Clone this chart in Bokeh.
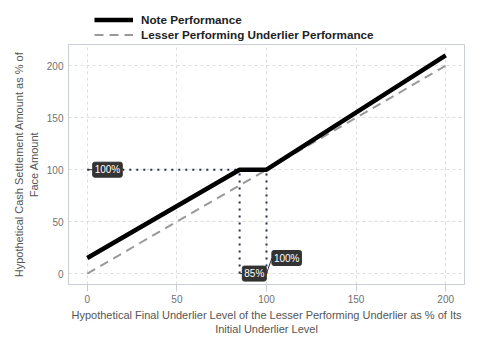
from bokeh.plotting import figure
from bokeh.layouts import column
from bokeh.models import Range1d, Legend, LegendItem, ColumnDataSource, FixedTicker
from bokeh.core.properties import value
from bokeh.embed import file_html
from bokeh.resources import INLINE

# Data
x_note = [0, 85, 100, 200]
y_note = [15, 100, 100, 210]
x_under = [0, 200]
y_under = [0, 200]
# reference (dotted) lines
ref_h_x = [0, 85]
ref_h_y = [100, 100]
ref_v1_x = [85, 85]
ref_v1_y = [0, 100]
ref_v2_x = [100, 100]
ref_v2_y = [0, 100]
# annotations
lab_text = ["100%", "85%", "100%"]
lab_pt_x = [0, 85, 100]
lab_pt_y = [100, 0, 0]
lab_x = [3, 86.5, 103]
lab_y = [100, 0, 15]
ticks = [0, 50, 100, 150, 200]
series_names = ["Note Performance", "Lesser Performing Underlier Performance"]

FONT = "Liberation Sans"
FRAME_COL = "#c9cdd6"
NOTE_STYLE = dict(line_color="black", line_width=4.5)
UNDER_STYLE = dict(line_color="#999999", line_width=2, line_dash="9 6")

p = figure(width=480, height=317, output_backend="svg", toolbar_location=None,
           x_range=Range1d(-10.5, 210.5), y_range=Range1d(-10.5, 220.5),
           min_border_left=68, min_border_right=16, min_border_top=1, min_border_bottom=76)
p.background_fill_color = "white"
p.border_fill_color = "white"
p.outline_line_color = FRAME_COL

for ax in (p.xaxis[0], p.yaxis[0]):
    ax.ticker = FixedTicker(ticks=ticks)
    ax.axis_line_color = FRAME_COL
    ax.major_tick_line_color = FRAME_COL
    ax.major_tick_in = 0
    ax.minor_tick_line_color = None
    ax.major_label_text_color = "#707070"
    ax.major_label_text_font = FONT
    ax.major_label_text_font_size = "10px"
    ax.axis_label_text_color = "#555555"
    ax.axis_label_text_font = FONT
    ax.axis_label_text_font_size = "11px"
    ax.axis_label_text_font_style = "normal"

p.xaxis.major_tick_out = 7
p.xaxis.major_label_standoff = 3
p.yaxis.major_tick_out = 0
p.yaxis.major_tick_line_color = None
p.yaxis.major_label_standoff = 5

p.xaxis.axis_label = "Hypothetical Final Underlier Level of the Lesser Performing Underlier as % of Its\nInitial Underlier Level"
p.yaxis.axis_label = "Hypothetical Cash Settlement Amount as % of\nFace Amount"
p.xaxis.axis_label_standoff = 3
p.yaxis.axis_label_standoff = 4

for g in (p.xgrid[0], p.ygrid[0]):
    g.ticker = FixedTicker(ticks=ticks)
    g.grid_line_color = "#dddddd"
    g.grid_line_dash = "3 3"

dot_col = "#253050"
for xs, ys in ((ref_h_x, ref_h_y), (ref_v1_x, ref_v1_y), (ref_v2_x, ref_v2_y)):
    p.line(xs, ys, line_color=dot_col, line_width=2, line_dash="2 5")

p.line(x_under, y_under, **UNDER_STYLE)
p.line(x_note, y_note, **NOTE_STYLE)

# leader segments
p.segment(x0=lab_pt_x, y0=lab_pt_y, x1=lab_x, y1=lab_y, line_color="#333333", line_width=1)

src = ColumnDataSource(dict(x=lab_x, y=lab_y, t=lab_text))
p.text(x="x", y="y", text="t", source=src, text_align="left", text_baseline="middle",
       text_color="white", text_font=value(FONT), text_font_size="10px",
       background_fill_color="#333333", border_line_color="#333333",
       padding=2, border_radius=2)

# legend strip above the plot (same series, drawn outside its visible range)
lg = figure(width=480, height=43, output_backend="svg", toolbar_location=None,
            x_range=Range1d(-1000, -999), y_range=Range1d(-1000, -999), min_border=0)
lg.axis.visible = False
lg.grid.visible = False
lg.outline_line_color = None
lg.border_fill_color = "white"
ln_note = lg.line(x_note, y_note, **NOTE_STYLE)
ln_under = lg.line(x_under, y_under, **UNDER_STYLE)
legend = Legend(items=[LegendItem(label=series_names[0], renderers=[ln_note]),
                       LegendItem(label=series_names[1], renderers=[ln_under])],
                location=(26, 2), orientation="vertical",
                glyph_width=39, glyph_height=13, label_height=13, spacing=2,
                padding=0, margin=0, border_line_color=None, background_fill_alpha=0,
                label_text_font=FONT, label_text_font_size="11.7px", label_text_font_style="bold",
                label_text_color="#222222", label_standoff=8)
lg.add_layout(legend)

layout = column(lg, p, spacing=0)
open("out.html", "w").write(file_html(layout, INLINE))
